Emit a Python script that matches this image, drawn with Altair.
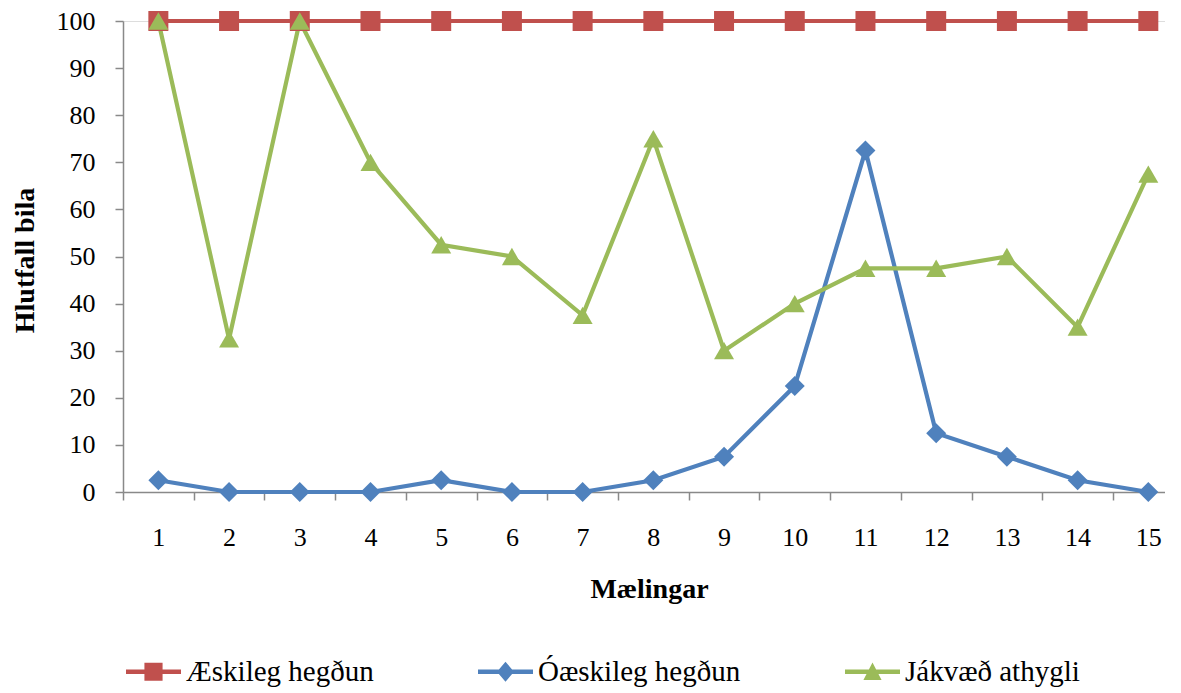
import altair as alt
import pandas as pd

# ---- data ----
maelingar = [1, 2, 3, 4, 5, 6, 7, 8, 9, 10, 11, 12, 13, 14, 15]
aeskileg = [100, 100, 100, 100, 100, 100, 100, 100, 100, 100, 100, 100, 100, 100, 100]
oaeskileg = [2.5, 0, 0, 0, 2.5, 0, 0, 2.5, 7.5, 22.5, 72.5, 12.5, 7.5, 2.5, 0]
jakvaed = [100, 32.5, 100, 70, 52.5, 50, 37.5, 75, 30, 40, 47.5, 47.5, 50, 35, 67.5]
series_names = ["Æskileg hegðun", "Óæskileg hegðun", "Jákvæð athygli"]
series_colors = ["#C0504D", "#4F81BD", "#9BBB59"]
series_shapes = ["square", "diamond", "triangle-up"]
y_ticks = [0, 10, 20, 30, 40, 50, 60, 70, 80, 90, 100]

rows = []
for name, vals in zip(series_names, [aeskileg, oaeskileg, jakvaed]):
    for m, v in zip(maelingar, vals):
        rows.append({"Mælingar": m, "Hlutfall": v, "Röð": name})
df = pd.DataFrame(rows)

FONT = "Liberation Serif"
AXIS_GRAY = "#898989"

x_axis_values = [i / 2 for i in range(1, 31)]

x_enc = alt.X(
    "Mælingar:Q",
    scale=alt.Scale(domain=[0.5, 15.236], nice=False, zero=False),
    axis=alt.Axis(
        values=x_axis_values,
        labelExpr="datum.value % 1 === 0 ? format(datum.value, 'd') : ''",
        tickOpacity={"condition": {"test": "datum.value % 1 === 0", "value": 0}, "value": 1},
        labelOverlap=False,
        labelFlush=False,
        grid=False,
        tickSize=8,
        tickWidth=1.5,
        tickColor=AXIS_GRAY,
        domainColor=AXIS_GRAY,
        domainWidth=1.5,
        labelFont=FONT,
        labelFontSize=26,
        labelColor="black",
        labelBaseline="alphabetic",
        labelPadding=45,
        title="Mælingar",
        titleFont=FONT,
        titleFontSize=28,
        titleFontWeight="bold",
        titleColor="black",
        titleX=526,
        titleY=105,
        titleAlign="center",
        titleBaseline="alphabetic",
        titleAngle=0,
    ),
)

y_enc = alt.Y(
    "Hlutfall:Q",
    scale=alt.Scale(domain=[0, 100], nice=False),
    axis=alt.Axis(
        values=y_ticks,
        grid=False,
        tickSize=8,
        tickWidth=1.5,
        tickColor=AXIS_GRAY,
        domainColor=AXIS_GRAY,
        domainWidth=1.5,
        labelFont=FONT,
        labelFontSize=26,
        labelColor="black",
        labelPadding=20,
        title="Hlutfall bila",
        titleFont=FONT,
        titleFontSize=28,
        titleFontWeight="bold",
        titleColor="black",
        titleX=-90,
        titleY=239,
        titleAlign="center",
        titleBaseline="alphabetic",
        titleAngle=270,
    ),
)

# legend symbols: a short line with the series marker on it
legend_paths = [
    "M-1,-0.08H1V0.08H-1Z M-0.33,-0.33H0.33V0.33H-0.33Z",
    "M-1,-0.08H1V0.08H-1Z M0,-0.36L0.31,0L0,0.36L-0.31,0Z",
    "M-1,-0.08H1V0.08H-1Z M0,-0.34L0.33,0.3L-0.33,0.3Z",
]

color_scale = alt.Scale(domain=series_names, range=series_colors)

legend_def = alt.Legend(
    title=None,
    orient="none",
    direction="horizontal",
    legendX=3,
    legendY=623,
    padding=0,
    symbolSize=3025,
    symbolStrokeWidth=0,
    symbolOpacity=1,
    labelFont=FONT,
    labelFontSize=29,
    labelColor="black",
    labelOffset=5,
    labelLimit=500,
    columnPadding=104,
)

lines = alt.Chart(df).mark_line(strokeWidth=4.2).encode(
    x=x_enc,
    y=y_enc,
    color=alt.Color("Röð:N", scale=color_scale, legend=None),
    detail="Röð:N",
)

points = alt.Chart(df).mark_point(filled=True, opacity=1, size=400).encode(
    x=x_enc,
    y=y_enc,
    color=alt.Color("Röð:N", scale=color_scale, legend=None),
    shape=alt.Shape("Röð:N", scale=alt.Scale(domain=series_names, range=series_shapes), legend=None),
)

legend_layer = (
    alt.Chart(df)
    .mark_point(filled=True, opacity=1)
    .encode(
        color=alt.Color("Röð:N", scale=color_scale, legend=legend_def),
        shape=alt.Shape("Röð:N", scale=alt.Scale(domain=series_names, range=legend_paths), legend=legend_def),
    )
    .transform_filter("false")
)

chart = (
    alt.layer(lines, points, legend_layer)
    .resolve_scale(shape="independent")
    .resolve_legend(color="independent", shape="independent")
    .properties(
        width=1042,
        height=471,
        autosize=alt.AutoSizeParams(type="none"),
        padding={"left": 115, "top": 13, "right": 0, "bottom": 198},
    )
    .configure_view(stroke=None)
    .configure(background="white")
)

chart.save("out.html", embed_options={"renderer": "svg", "actions": False})
